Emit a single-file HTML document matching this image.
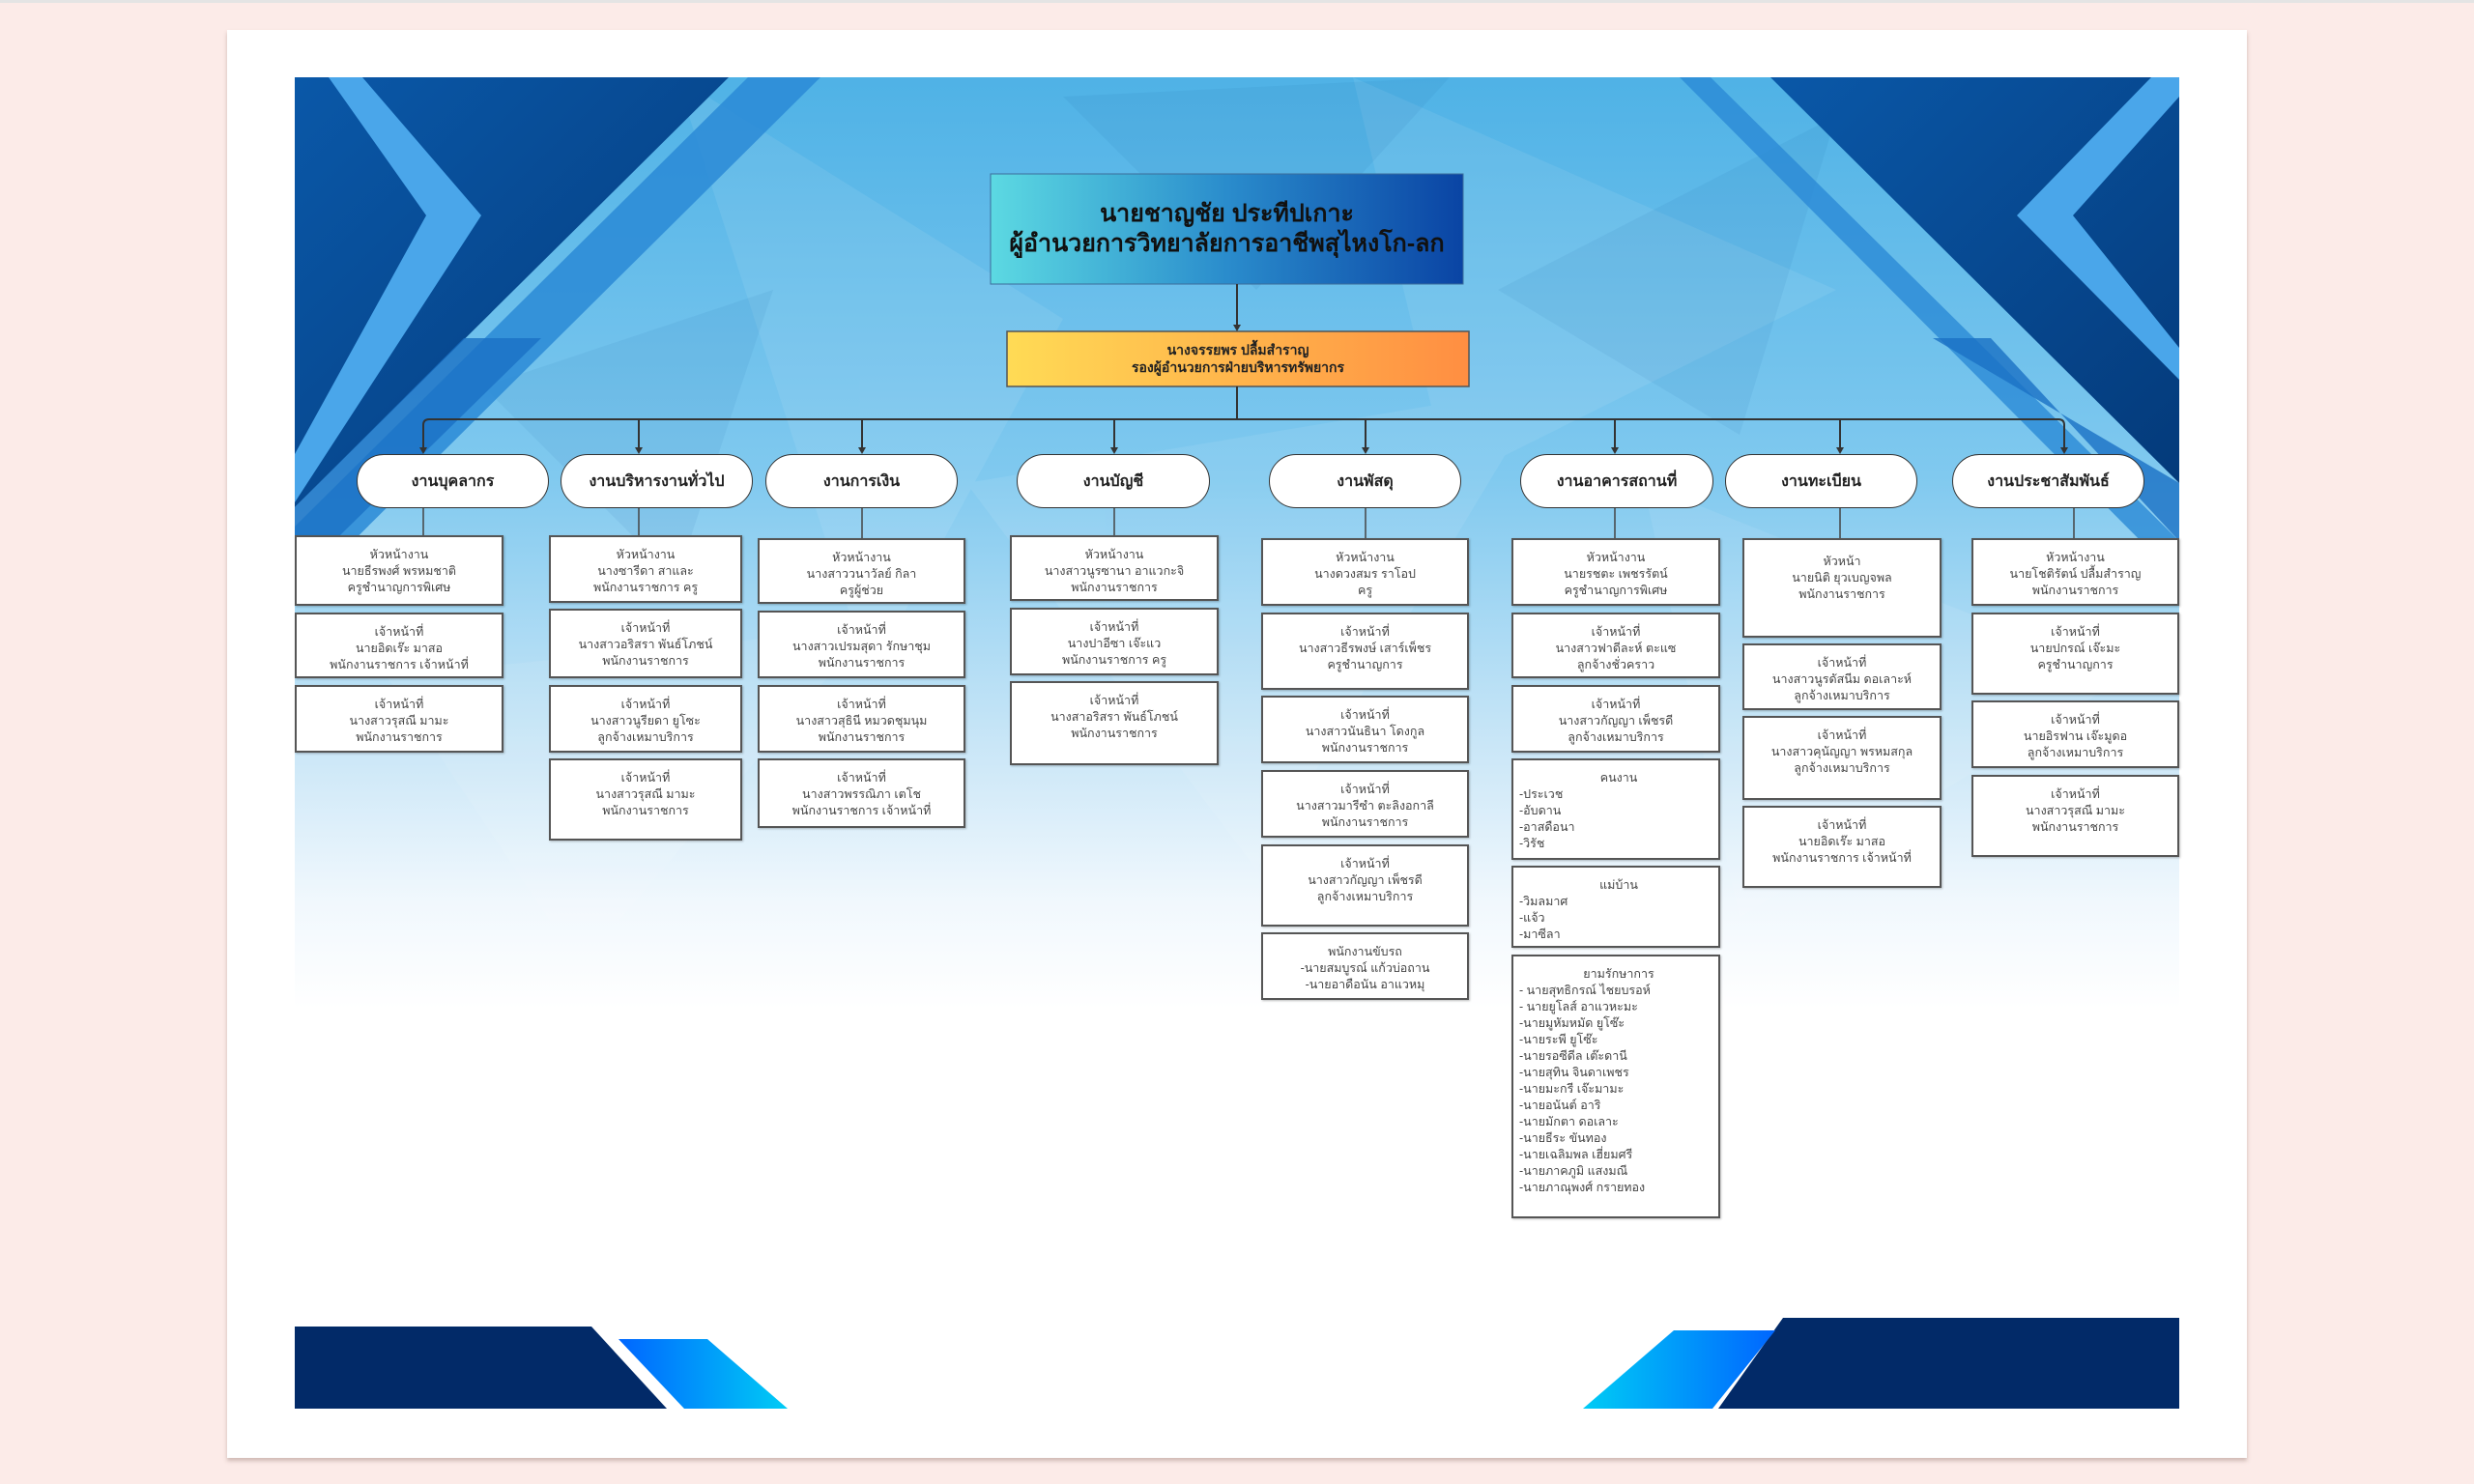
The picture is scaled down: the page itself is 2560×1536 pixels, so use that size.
<!DOCTYPE html>
<html><head><meta charset="utf-8">
<style>
*{margin:0;padding:0;box-sizing:border-box}
body{width:2560px;height:1536px;background:#fcebe8;position:relative;overflow:hidden;font-family:"Liberation Sans","DejaVu Sans",sans-serif}
.abs{position:absolute}
.box{position:absolute;background:#fff;border:2px solid #555;color:#444;font-size:12.5px;line-height:17px;text-align:center;padding-top:10px;box-shadow:1px 1px 2px rgba(0,0,0,.25)}
.box.l{text-align:left;padding-left:6px}
.box.l .c{text-align:center}
.pill{position:absolute;top:470px;height:56px;background:#fff;border:1.5px solid #333;border-radius:28px;font-weight:bold;font-size:16px;color:#222;display:flex;align-items:center;justify-content:center}
</style></head><body>
<div class="abs" style="left:0;top:0;width:2560px;height:3px;background:#e4e4e4"></div>
<div class="abs" style="left:235px;top:31px;width:2090px;height:1478px;background:#fff;box-shadow:0 3px 4px rgba(120,90,80,.35)"></div>

<svg class="abs" style="left:0;top:0" width="2560" height="1536">
<defs>
<linearGradient id="bg" x1="0" y1="0" x2="0" y2="1">
<stop offset="0" stop-color="#4fb2e6"/><stop offset="0.3" stop-color="#80c9ef"/><stop offset="0.5" stop-color="#c9e6f7"/><stop offset="0.62" stop-color="#f1f8fd"/><stop offset="0.7" stop-color="#fff"/></linearGradient>
<linearGradient id="nav" x1="0" y1="0" x2="1" y2="1"><stop offset="0" stop-color="#0a58a8"/><stop offset="1" stop-color="#043a7a"/></linearGradient>
<linearGradient id="bl" x1="0" y1="0" x2="1" y2="0"><stop offset="0" stop-color="#0066ff"/><stop offset="1" stop-color="#00ccf5"/></linearGradient>
<linearGradient id="br" x1="1" y1="0" x2="0" y2="0"><stop offset="0" stop-color="#0066ff"/><stop offset="1" stop-color="#00ccf5"/></linearGradient>
<linearGradient id="tb" x1="0" y1="0" x2="1" y2="0"><stop offset="0" stop-color="#5cd9e2"/><stop offset="0.5" stop-color="#2a8ccc"/><stop offset="1" stop-color="#0a44a4"/></linearGradient>
<linearGradient id="ob" x1="0" y1="0" x2="1" y2="0"><stop offset="0" stop-color="#ffdb55"/><stop offset="1" stop-color="#ff8e42"/></linearGradient>
</defs>
<rect x="305" y="80" width="1950" height="1378" fill="url(#bg)"/>
<g opacity="0.08" fill="#fff">
<polygon points="700,80 1100,330 900,700"/>
<polygon points="1400,80 1900,300 1500,500"/>
<polygon points="1000,500 1600,400 1300,900"/>
<polygon points="1700,500 2200,700 1800,950"/>
<polygon points="400,700 900,650 600,1000"/>
</g>
<g opacity="0.07" fill="#0a5aa0">
<polygon points="1100,100 1500,80 1300,300"/>
<polygon points="1550,300 1900,120 1800,450"/>
<polygon points="500,400 800,300 700,600"/>
</g>
<!-- left top decoration -->
<polygon points="305,80 754,80 305,525" fill="url(#nav)"/>
<polygon points="774,80 849,80 305,620 305,545" fill="#2a8ad6" opacity="0.85"/>
<polygon points="480,350 560,350 305,600 305,525" fill="#1a70c4" opacity="0.8"/>
<polygon points="340,80 375,80 498,223 305,520 305,470 441,223" fill="#4aa6ea"/>
<!-- right top decoration -->
<polygon points="1832,80 2255,80 2255,500" fill="url(#nav)"/>
<polygon points="1738,80 1770,80 2255,560 2255,600" fill="#2a8ad6" opacity="0.8"/>
<polygon points="2000,350 2060,350 2255,560 2255,500" fill="#1a70c4" opacity="0.8"/>
<polygon points="2226,80 2255,80 2255,100 2145,223 2255,360 2255,393 2087,223" fill="#4aa6ea"/>
<!-- bottom -->
<rect x="305" y="1373" width="1950" height="85" fill="#fff"/>
<polygon points="305,1373 612,1373 690,1458 305,1458" fill="#022a68"/>
<polygon points="640,1386 732,1386 815,1458 708,1458" fill="url(#bl)"/>
<polygon points="1845,1364 2255,1364 2255,1458 1778,1458" fill="#022a68"/>
<polygon points="1732,1377 1837,1377 1772,1458 1638,1458" fill="url(#br)"/>
<!-- top boxes -->
<rect x="1025" y="180" width="489" height="114" fill="url(#tb)" stroke="#3b6c9a" stroke-width="1"/>
<rect x="1042" y="343" width="478" height="57" fill="url(#ob)" stroke="#555" stroke-width="1.5"/>
<g stroke="#333" stroke-width="2" fill="none">
<line x1="1280" y1="294" x2="1280" y2="338"/>
<line x1="1280" y1="400" x2="1280" y2="434"/>
<path d="M438,465 V440 Q438,434 444,434 H2130 Q2136,434 2136,440 V465"/>
<line x1="661" y1="434" x2="661" y2="465"/><line x1="892" y1="434" x2="892" y2="465"/>
<line x1="1153" y1="434" x2="1153" y2="465"/><line x1="1413" y1="434" x2="1413" y2="465"/>
<line x1="1671" y1="434" x2="1671" y2="465"/><line x1="1904" y1="434" x2="1904" y2="465"/>
</g>
<g fill="#333">
<polygon points="1276,336 1284,336 1280,343"/>
<polygon points="434,463 442,463 438,470"/><polygon points="657,463 665,463 661,470"/>
<polygon points="888,463 896,463 892,470"/><polygon points="1149,463 1157,463 1153,470"/>
<polygon points="1409,463 1417,463 1413,470"/><polygon points="1667,463 1675,463 1671,470"/>
<polygon points="1900,463 1908,463 1904,470"/><polygon points="2132,463 2140,463 2136,470"/>
</g>
<g stroke="#444" stroke-width="1.5">
<line x1="438" y1="526" x2="438" y2="554"/><line x1="661" y1="526" x2="661" y2="554"/>
<line x1="892" y1="526" x2="892" y2="557"/><line x1="1153" y1="526" x2="1153" y2="554"/>
<line x1="1413" y1="526" x2="1413" y2="557"/><line x1="1671" y1="526" x2="1671" y2="557"/>
<line x1="1904" y1="526" x2="1904" y2="557"/><line x1="2146" y1="526" x2="2146" y2="557"/>
</g>
</svg>

<div class="abs" style="left:1025px;top:206px;width:489px;text-align:center;font-weight:bold;font-size:25px;line-height:31px;color:#111">นายชาญชัย ประทีปเกาะ<br>ผู้อำนวยการวิทยาลัยการอาชีพสุไหงโก-ลก</div>
<div class="abs" style="left:1042px;top:353px;width:478px;text-align:center;font-weight:bold;font-size:14px;line-height:18px;color:#222">นางจรรยพร ปลื้มสำราญ<br>รองผู้อำนวยการฝ่ายบริหารทรัพยากร</div>

<div class="pill" style="left:369px;width:199px">งานบุคลากร</div>
<div class="pill" style="left:580px;width:199px">งานบริหารงานทั่วไป</div>
<div class="pill" style="left:792px;width:199px">งานการเงิน</div>
<div class="pill" style="left:1052px;width:200px">งานบัญชี</div>
<div class="pill" style="left:1313px;width:199px">งานพัสดุ</div>
<div class="pill" style="left:1573px;width:200px">งานอาคารสถานที่</div>
<div class="pill" style="left:1785px;width:199px">งานทะเบียน</div>
<div class="pill" style="left:2020px;width:199px">งานประชาสัมพันธ์</div>

<!-- col1 -->
<div class="box" style="left:305px;top:554px;width:216px;height:73px">หัวหน้างาน<br>นายธีรพงศ์ พรหมชาติ<br>ครูชำนาญการพิเศษ</div>
<div class="box" style="left:305px;top:634px;width:216px;height:68px">เจ้าหน้าที่<br>นายอิดเร๊ะ มาสอ<br>พนักงานราชการ เจ้าหน้าที่</div>
<div class="box" style="left:305px;top:709px;width:216px;height:70px">เจ้าหน้าที่<br>นางสาวรุสณี มามะ<br>พนักงานราชการ</div>
<!-- col2 -->
<div class="box" style="left:568px;top:554px;width:200px;height:70px">หัวหน้างาน<br>นางซารีดา สาและ<br>พนักงานราชการ ครู</div>
<div class="box" style="left:568px;top:630px;width:200px;height:72px">เจ้าหน้าที่<br>นางสาวอริสรา พันธ์โภชน์<br>พนักงานราชการ</div>
<div class="box" style="left:568px;top:709px;width:200px;height:70px">เจ้าหน้าที่<br>นางสาวนูรียดา ยูโซะ<br>ลูกจ้างเหมาบริการ</div>
<div class="box" style="left:568px;top:785px;width:200px;height:85px">เจ้าหน้าที่<br>นางสาวรุสณี มามะ<br>พนักงานราชการ</div>
<!-- col3 -->
<div class="box" style="left:784px;top:557px;width:215px;height:68px">หัวหน้างาน<br>นางสาววนาวัลย์ กิลา<br>ครูผู้ช่วย</div>
<div class="box" style="left:784px;top:632px;width:215px;height:70px">เจ้าหน้าที่<br>นางสาวเปรมสุดา รักษาชุม<br>พนักงานราชการ</div>
<div class="box" style="left:784px;top:709px;width:215px;height:70px">เจ้าหน้าที่<br>นางสาวสุธินี หมวดชุมนุม<br>พนักงานราชการ</div>
<div class="box" style="left:784px;top:785px;width:215px;height:72px">เจ้าหน้าที่<br>นางสาวพรรณิภา เตโช<br>พนักงานราชการ เจ้าหน้าที่</div>
<!-- col4 -->
<div class="box" style="left:1045px;top:554px;width:216px;height:68px">หัวหน้างาน<br>นางสาวนูรซานา อาแวกะจิ<br>พนักงานราชการ</div>
<div class="box" style="left:1045px;top:629px;width:216px;height:70px">เจ้าหน้าที่<br>นางปาอีซา เจ๊ะแว<br>พนักงานราชการ ครู</div>
<div class="box" style="left:1045px;top:705px;width:216px;height:87px">เจ้าหน้าที่<br>นางสาอริสรา พันธ์โภชน์<br>พนักงานราชการ</div>
<!-- col5 -->
<div class="box" style="left:1305px;top:557px;width:215px;height:70px">หัวหน้างาน<br>นางดวงสมร ราโอป<br>ครู</div>
<div class="box" style="left:1305px;top:634px;width:215px;height:80px">เจ้าหน้าที่<br>นางสาวธีรพงษ์ เสาร์เพ็ชร<br>ครูชำนาญการ</div>
<div class="box" style="left:1305px;top:720px;width:215px;height:70px">เจ้าหน้าที่<br>นางสาวนันธินา โดงกูล<br>พนักงานราชการ</div>
<div class="box" style="left:1305px;top:797px;width:215px;height:70px">เจ้าหน้าที่<br>นางสาวมารีซำ ตะลิงอกาลี<br>พนักงานราชการ</div>
<div class="box" style="left:1305px;top:874px;width:215px;height:85px">เจ้าหน้าที่<br>นางสาวกัญญา เพ็ชรดี<br>ลูกจ้างเหมาบริการ</div>
<div class="box" style="left:1305px;top:965px;width:215px;height:70px">พนักงานขับรถ<br>-นายสมบูรณ์ แก้วบ่อถาน<br>-นายอาดือนัน อาแวหมุ</div>
<!-- col6 -->
<div class="box" style="left:1564px;top:557px;width:216px;height:70px">หัวหน้างาน<br>นายรชตะ เพชรรัตน์<br>ครูชำนาญการพิเศษ</div>
<div class="box" style="left:1564px;top:634px;width:216px;height:68px">เจ้าหน้าที่<br>นางสาวฟาดีละห์ ตะแซ<br>ลูกจ้างชั่วคราว</div>
<div class="box" style="left:1564px;top:709px;width:216px;height:70px">เจ้าหน้าที่<br>นางสาวกัญญา เพ็ชรดี<br>ลูกจ้างเหมาบริการ</div>
<div class="box l" style="left:1564px;top:785px;width:216px;height:105px"><div class="c">คนงาน</div>-ประเวช<br>-อับดาน<br>-อาสดือนา<br>-วิรัช</div>
<div class="box l" style="left:1564px;top:896px;width:216px;height:85px"><div class="c">แม่บ้าน</div>-วิมลมาศ<br>-แจ้ว<br>-มาซีลา</div>
<div class="box l" style="left:1564px;top:988px;width:216px;height:273px"><div class="c">ยามรักษาการ</div>- นายสุทธิกรณ์ ไชยบรอห์<br>- นายยูโลส์ อาแวหะมะ<br>-นายมูหัมหมัด ยูโซ๊ะ<br>-นายระพี ยูโซ๊ะ<br>-นายรอซีดีล เต๊ะดานี<br>-นายสุทิน จินดาเพชร<br>-นายมะกรี เจ๊ะมามะ<br>-นายอนันต์ อาริ<br>-นายมักตา ดอเลาะ<br>-นายธีระ ขันทอง<br>-นายเฉลิมพล เฮี่ยมศรี<br>-นายภาคภูมิ แสงมณี<br>-นายภาณุพงศ์ กรายทอง</div>
<!-- col7 -->
<div class="box" style="left:1803px;top:557px;width:206px;height:103px;padding-top:14px">หัวหน้า<br>นายนิติ ยุวเบญจพล<br>พนักงานราชการ</div>
<div class="box" style="left:1803px;top:666px;width:206px;height:69px">เจ้าหน้าที่<br>นางสาวนูรดัสนีม ดอเลาะห์<br>ลูกจ้างเหมาบริการ</div>
<div class="box" style="left:1803px;top:741px;width:206px;height:87px">เจ้าหน้าที่<br>นางสาวคุนัญญา พรหมสกุล<br>ลูกจ้างเหมาบริการ</div>
<div class="box" style="left:1803px;top:834px;width:206px;height:85px">เจ้าหน้าที่<br>นายอิดเร๊ะ มาสอ<br>พนักงานราชการ เจ้าหน้าที่</div>
<!-- col8 -->
<div class="box" style="left:2040px;top:557px;width:215px;height:70px">หัวหน้างาน<br>นายโชติรัตน์ ปลื้มสำราญ<br>พนักงานราชการ</div>
<div class="box" style="left:2040px;top:634px;width:215px;height:85px">เจ้าหน้าที่<br>นายปกรณ์ เจ๊ะมะ<br>ครูชำนาญการ</div>
<div class="box" style="left:2040px;top:725px;width:215px;height:70px">เจ้าหน้าที่<br>นายอิรฟาน เจ๊ะมูดอ<br>ลูกจ้างเหมาบริการ</div>
<div class="box" style="left:2040px;top:802px;width:215px;height:85px">เจ้าหน้าที่<br>นางสาวรุสณี มามะ<br>พนักงานราชการ</div>
</body></html>
